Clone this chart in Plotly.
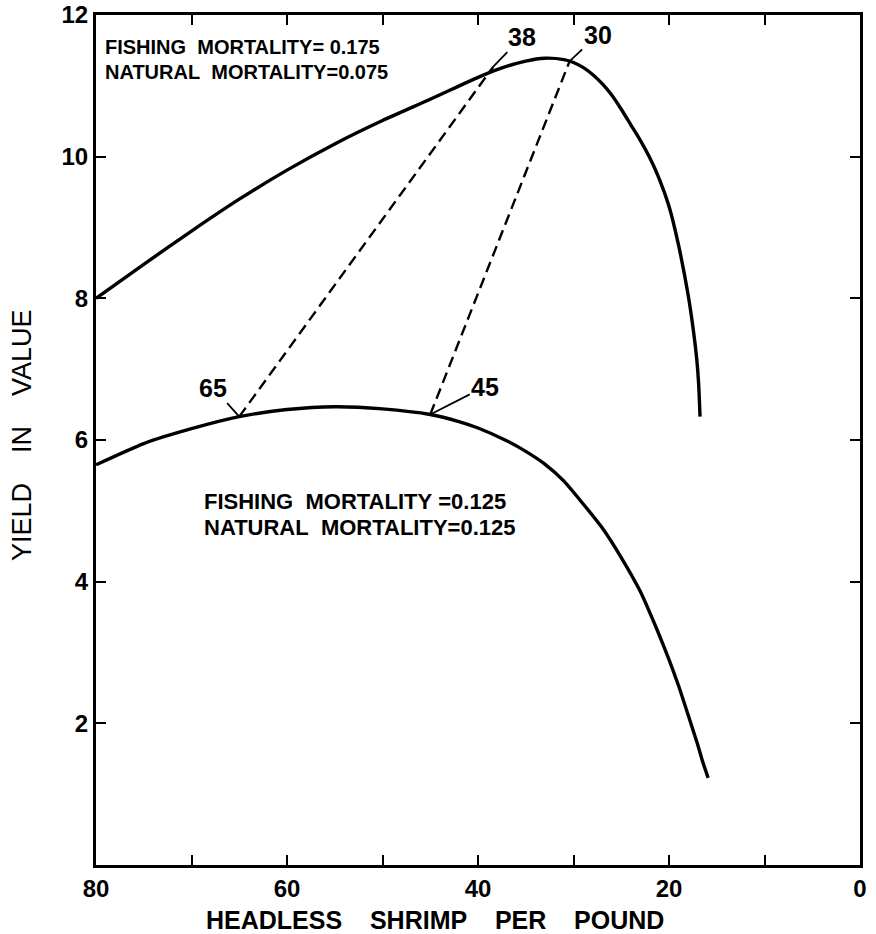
import plotly.graph_objects as go

# Upper curve: fishing mortality 0.175, natural mortality 0.075
upper_x = [80, 75, 70, 65, 60, 55, 50, 45, 40, 38, 35, 33, 31, 30, 29, 28, 27, 26, 25, 24, 23, 22, 21, 20, 19, 18, 17.5, 17.1, 16.9, 16.75]
upper_y = [8.0, 8.48, 8.95, 9.40, 9.81, 10.18, 10.51, 10.81, 11.12, 11.23, 11.35, 11.39, 11.37, 11.33, 11.26, 11.16, 11.03, 10.87, 10.67, 10.45, 10.23, 9.98, 9.68, 9.3, 8.75, 8.05, 7.6, 7.15, 6.8, 6.33]

# Lower curve: fishing mortality 0.125, natural mortality 0.125
lower_x = [80, 75, 70, 65, 60, 55, 50, 45, 42, 40, 37, 35, 33, 31, 29, 27, 25, 23, 22, 21, 20, 19, 18, 17, 16.5, 15.9]
lower_y = [5.65, 5.95, 6.16, 6.33, 6.43, 6.47, 6.44, 6.36, 6.26, 6.17, 5.99, 5.84, 5.66, 5.42, 5.10, 4.76, 4.34, 3.86, 3.56, 3.24, 2.9, 2.53, 2.12, 1.7, 1.47, 1.23]

# Dashed connectors (equal-yield size links)
dash1_x = [65, 38.4]
dash1_y = [6.33, 11.27]
dash2_x = [45, 30.4]
dash2_y = [6.36, 11.35]

# Point labels
pt_labels = ["38", "30", "65", "45"]
pt_x = [38.4, 30.4, 65, 45]
pt_y = [11.27, 11.35, 6.33, 6.36]
pt_ax = [29, 28, -26, 55]
pt_ay = [-30, -26, -29, -28]

x_ticks = [0, 10, 20, 30, 40, 50, 60, 70, 80]
x_ticktext = ["0", "", "20", "", "40", "", "60", "", "80"]
y_ticks = [2, 4, 6, 8, 10, 12]
y_ticktext = ["2", "4", "6", "8", "10", "12"]

FONT = "Liberation Sans, Arial, sans-serif"
NB = "\u00a0"

fig = go.Figure()
fig.add_trace(go.Scatter(x=upper_x, y=upper_y, mode="lines",
                         line=dict(color="black", width=3.4, shape="spline", smoothing=0.6),
                         showlegend=False, hoverinfo="skip"))
fig.add_trace(go.Scatter(x=lower_x, y=lower_y, mode="lines",
                         line=dict(color="black", width=3.4, shape="spline", smoothing=0.6),
                         showlegend=False, hoverinfo="skip"))
for dx, dy in [(dash1_x, dash1_y), (dash2_x, dash2_y)]:
    fig.add_trace(go.Scatter(x=dx, y=dy, mode="lines",
                             line=dict(color="black", width=2.4, dash="11px,6px"),
                             showlegend=False, hoverinfo="skip"))

annotations = []
for t, x, y, ax, ay in zip(pt_labels, pt_x, pt_y, pt_ax, pt_ay):
    annotations.append(dict(x=x, y=y, xref="x", yref="y", text=t, showarrow=True,
                            arrowhead=0, arrowwidth=1.8, arrowcolor="black",
                            ax=ax, ay=ay, standoff=0,
                            font=dict(family=FONT, size=25, color="black", weight="bold")))

top_font = dict(family=FONT, size=20, color="black", weight="bold")
low_font = dict(family=FONT, size=22, color="black", weight="bold")
annotations += [
    dict(x=79.3, y=11.55, xref="x", yref="y",
         text="FISHING" + NB * 2 + "MORTALITY=" + NB + "0.175",
         showarrow=False, xanchor="left", yanchor="middle", font=top_font),
    dict(x=79.3, y=11.2, xref="x", yref="y",
         text="NATURAL" + NB * 2 + "MORTALITY=0.075",
         showarrow=False, xanchor="left", yanchor="middle", font=top_font),
    dict(x=68.9, y=5.13, xref="x", yref="y",
         text="FISHING" + NB * 2 + "MORTALITY" + NB + "=0.125",
         showarrow=False, xanchor="left", yanchor="middle", font=low_font),
    dict(x=68.9, y=4.76, xref="x", yref="y",
         text="NATURAL" + NB * 2 + "MORTALITY=0.125",
         showarrow=False, xanchor="left", yanchor="middle", font=low_font),
    dict(x=0.5, y=0, xref="paper", yref="paper",
         text="HEADLESS" + NB * 4 + "SHRIMP" + NB * 4 + "PER" + NB * 4 + "POUND",
         showarrow=False, xanchor="center", yanchor="middle", yshift=-55, xshift=-43,
         font=dict(family=FONT, size=25, color="black", weight="bold")),
    dict(x=0, y=0.5, xref="paper", yref="paper",
         text="YIELD" + NB * 4 + "IN" + NB * 4 + "VALUE", textangle=-90,
         showarrow=False, xanchor="center", yanchor="middle", xshift=-74, yshift=5,
         font=dict(family=FONT, size=27, color="black")),
]

fig.update_layout(
    width=876, height=934,
    margin=dict(l=96, r=16, t=15, b=69, autoexpand=False),
    plot_bgcolor="white", paper_bgcolor="white",
    annotations=annotations,
    font=dict(family=FONT, color="black"),
)
fig.update_xaxes(range=[80, 0], tickvals=x_ticks, ticktext=x_ticktext,
                 ticks="inside", ticklen=10, tickwidth=2.2, tickcolor="black",
                 showline=True, linewidth=3, linecolor="black", mirror="ticks",
                 showgrid=False, zeroline=False, automargin=False,
                 tickfont=dict(family=FONT, size=24, color="black", weight="bold"))
fig.update_yaxes(range=[0, 12], tickvals=y_ticks, ticktext=y_ticktext,
                 ticks="inside", ticklen=10, tickwidth=2.2, tickcolor="black",
                 showline=True, linewidth=3, linecolor="black", mirror="ticks",
                 showgrid=False, zeroline=False, automargin=False,
                 tickfont=dict(family=FONT, size=24, color="black", weight="bold"))

fig.write_html("out.html", config={"displayModeBar": False},
               post_script="document.body.style.margin='0';")
